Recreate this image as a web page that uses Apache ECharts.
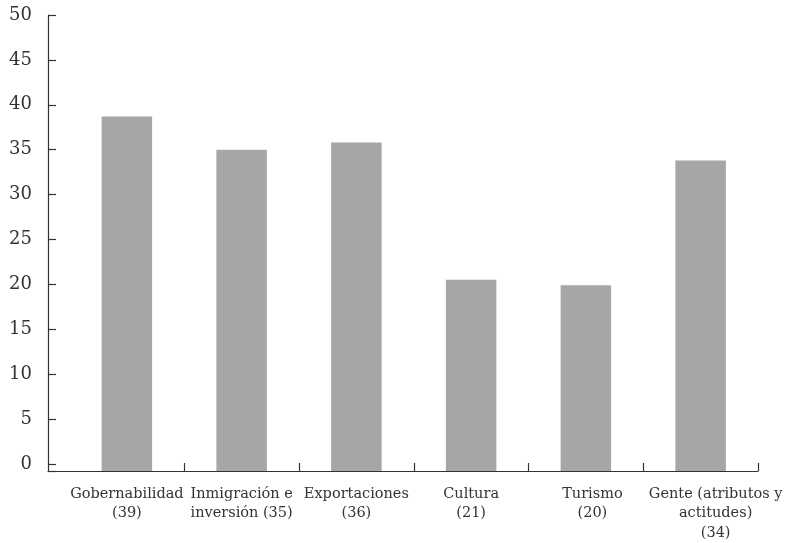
<!DOCTYPE html>
<html><head><meta charset="utf-8">
<script src="https://cdn.jsdelivr.net/npm/echarts@6/dist/echarts.min.js"></script>
<style>html,body{margin:0;padding:0;background:#fff}#c{width:788px;height:543px}</style>
</head><body><div id="c"></div>
<script>
// ---- data ----
const categories = [
  'Gobernabilidad\n(39)',
  'Inmigración e\ninversión (35)',
  'Exportaciones\n(36)',
  'Cultura\n(21)',
  'Turismo\n(20)',
  'Gente (atributos y\nactitudes)\n(34)'
];
const values = [38.7, 35.0, 35.8, 20.5, 19.9, 33.8];
const yMax = 50;
const yStep = 5;
const yMin = -0.79;   // axis line sits slightly below zero in the reference

// ---- style ----
const FONT = 'DejaVu Serif';
const TXT = '#333';
const AX = '#333';
const BAR = '#a6a6a9';
const labelNudge = [0, 0, 0, 0, 13, 30];

const chart = echarts.init(document.getElementById('c'), null, {renderer: 'canvas'});
chart.setOption({
  animation: false,
  backgroundColor: '#fff',
  grid: [
    {left: 69.5, right: 30, top: 15, bottom: 72, containLabel: false},
    {left: 48, right: 30, top: 470, bottom: 72, containLabel: false}
  ],
  xAxis: [
    {
      type: 'category', gridIndex: 0, position: 'bottom',
      data: categories.map((c, i) => ({value: c, textStyle: {padding: [0, 0, 0, labelNudge[i]]}})),
      boundaryGap: true,
      axisLine: {show: false, onZero: false},
      axisTick: {show: true, inside: true, length: 8, lineStyle: {color: AX, width: 1.2},
        interval: (idx) => idx !== 0},
      axisLabel: {interval: 0, margin: 13, color: TXT, fontFamily: FONT, fontSize: 14.5, lineHeight: 19.5, align: 'center'},
      splitLine: {show: false}
    },
    {
      type: 'value', gridIndex: 1, min: 0, max: 1, position: 'bottom',
      axisLine: {show: true, onZero: false, lineStyle: {color: AX, width: 1.2}},
      axisTick: {show: false}, axisLabel: {show: false}, splitLine: {show: false}
    }
  ],
  yAxis: [
    {
      type: 'value', gridIndex: 0, min: yMin, max: yMax,
      minInterval: yStep, maxInterval: yStep,
      offset: 21.5,
      axisLine: {show: true, onZero: false, lineStyle: {color: AX, width: 1.2}},
      axisTick: {show: true, inside: true, length: 8, lineStyle: {color: AX, width: 1.2}},
      axisLabel: {margin: 16, color: TXT, fontFamily: FONT, fontSize: 18,
        showMinLabel: true,
        formatter: v => (Math.abs(v / yStep - Math.round(v / yStep)) < 1e-6 ? String(Math.round(v)) : '')},
      splitLine: {show: false}
    },
    {
      type: 'value', gridIndex: 1, min: 0, max: 1, show: false
    }
  ],
  series: [{
    type: 'custom',
    xAxisIndex: 0, yAxisIndex: 0,
    data: values.map((v, i) => [i, v]),
    encode: {x: 0, y: 1},
    renderItem: function (params, api) {
      const i = api.value(0), v = api.value(1);
      const top = api.coord([i, v]);
      const base = api.coord([i, yMin]);
      const w = api.size([1, 0])[0] * 0.44;
      return {
        type: 'rect',
        shape: {x: top[0] - w / 2, y: top[1], width: w, height: base[1] - top[1]},
        style: {fill: BAR}
      };
    }
  }]
});
</script>
</body></html>
